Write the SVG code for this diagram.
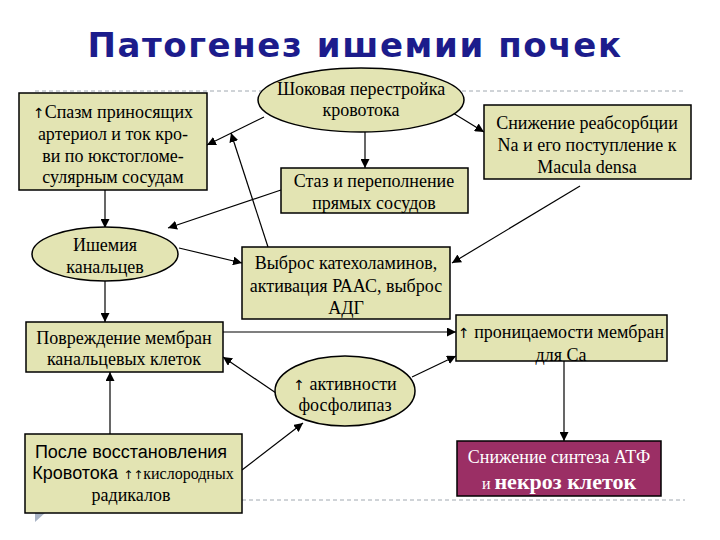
<svg xmlns="http://www.w3.org/2000/svg" width="720" height="540" viewBox="0 0 720 540">
<defs>
<marker id="arr" viewBox="0 0 10 10" refX="10" refY="5" markerWidth="9" markerHeight="9" markerUnits="userSpaceOnUse" orient="auto">
<path d="M0,0 L10,5 L0,10 z" fill="#000"/>
</marker>
<style>
.box{fill:#e3e4b3;stroke:#000;stroke-width:1.5}
.c{fill:none;stroke:#000;stroke-width:1.2;marker-end:url(#arr)}
.dash{stroke:#a0a8b0;stroke-width:1;stroke-dasharray:4,3;fill:none}
</style>
</defs>
<rect width="720" height="540" fill="#fff"/>
<line class="dash" x1="35" y1="91" x2="685" y2="91"/>
<line class="dash" x1="242" y1="500" x2="685" y2="500"/>
<polygon points="35,513 45,513 35,522" fill="#a9b4c6"/>
<text x="355" y="57" text-anchor="middle" font-family="'DejaVu Sans',Verdana,sans-serif" font-weight="bold" font-size="34" fill="#1c1c8c" letter-spacing="1.6">Патогенез ишемии почек</text>

<g id="connectors">
<line class="c" x1="365" y1="132" x2="365" y2="168"/>
<line class="c" x1="264" y1="117" x2="207" y2="145"/>
<line class="c" x1="268" y1="247" x2="231" y2="133"/>
<line class="c" x1="281" y1="190" x2="168" y2="228"/>
<line class="c" x1="105" y1="190" x2="105" y2="228"/>
<line class="c" x1="179" y1="248" x2="242" y2="263"/>
<line class="c" x1="580" y1="186" x2="452" y2="263"/>
<line class="c" x1="453" y1="113" x2="484" y2="132"/>
<line class="c" x1="105" y1="281" x2="105" y2="322"/>
<line class="c" x1="223" y1="332" x2="456" y2="332"/>
<line class="c" x1="276" y1="393" x2="223" y2="357"/>
<line class="c" x1="412" y1="377" x2="456" y2="356"/>
<line class="c" x1="110" y1="434" x2="110" y2="372"/>
<line class="c" x1="242" y1="470" x2="303" y2="423"/>
<line class="c" x1="564" y1="361" x2="564" y2="441"/>
</g>

<g font-family="'Liberation Serif', 'Times New Roman', serif" font-size="18" text-anchor="middle" fill="#000">
<g id="shock">
<ellipse class="box" cx="361" cy="100" rx="103" ry="32"/>
<text x="361" y="95">Шоковая перестройка</text>
<text x="361" y="116">кровотока</text>
</g>
<g id="spasm">
<rect class="box" x="19" y="93" width="188" height="97"/>
<text x="113" y="118"><tspan font-family="'DejaVu Sans', sans-serif" font-size="14" fill="#000">↑</tspan>Спазм приносящих</text>
<text x="113" y="140">артериол и ток кро-</text>
<text x="113" y="162">ви по юкстогломе-</text>
<text x="113" y="183">сулярным сосудам</text>
</g>
<g id="stasis">
<rect class="box" x="281" y="168" width="187" height="45"/>
<text x="374" y="187">Стаз и переполнение</text>
<text x="374" y="209">прямых сосудов</text>
</g>
<g id="macula">
<rect class="box" x="484" y="105" width="207" height="74"/>
<text x="587" y="129">Снижение реабсорбции</text>
<text x="587" y="151">Na и его поступление к</text>
<text x="587" y="173">Macula densa</text>
</g>
<g id="ischemia">
<ellipse class="box" cx="105" cy="254" rx="73" ry="27"/>
<text x="105" y="251">Ишемия</text>
<text x="105" y="273">канальцев</text>
</g>
<g id="catechol">
<rect class="box" x="242" y="247" width="208" height="72"/>
<text x="346" y="269">Выброс катехоламинов,</text>
<text x="346" y="292">активация РААС, выброс</text>
<text x="346" y="314">АДГ</text>
</g>
<g id="damage">
<rect class="box" x="26" y="322" width="197" height="50"/>
<text x="124" y="344">Повреждение мембран</text>
<text x="124" y="365">канальцевых клеток</text>
</g>
<g id="permeability">
<rect class="box" x="456" y="315" width="211" height="46"/>
<text x="561" y="338"><tspan font-family="'DejaVu Sans', sans-serif" font-size="14" fill="#000">↑</tspan> проницаемости мембран</text>
<text x="561" y="361">для Са</text>
</g>
<g id="phospholipase">
<ellipse class="box" cx="345" cy="391" rx="70" ry="35"/>
<text x="345" y="390"><tspan font-family="'DejaVu Sans', sans-serif" font-size="14" fill="#000">↑</tspan> активности</text>
<text x="345" y="411">фосфолипаз</text>
</g>
<g id="restore">
<rect class="box" x="25" y="434" width="217" height="79"/>
<text x="131" y="458" font-family="'Liberation Sans', Arial, sans-serif" font-size="18">После восстановления</text>
<text x="133" y="479"><tspan font-family="'Liberation Sans', Arial, sans-serif" font-size="18">Кровотока </tspan><tspan font-family="'DejaVu Sans', sans-serif" font-size="12" fill="#000">↑↑</tspan><tspan font-size="16">кислородных</tspan></text>
<text x="131" y="501">радикалов</text>
</g>
<g id="necrosis">
<rect x="457" y="441" width="204" height="55" fill="#9b2f65" stroke="#000" stroke-width="1.5"/>
<text x="559" y="463" fill="#fff">Снижение синтеза АТФ</text>
<text x="559" y="489" fill="#fff"><tspan font-size="16">и </tspan><tspan font-size="22" font-weight="bold">некроз клеток</tspan></text>
</g>
</g>
</svg>
